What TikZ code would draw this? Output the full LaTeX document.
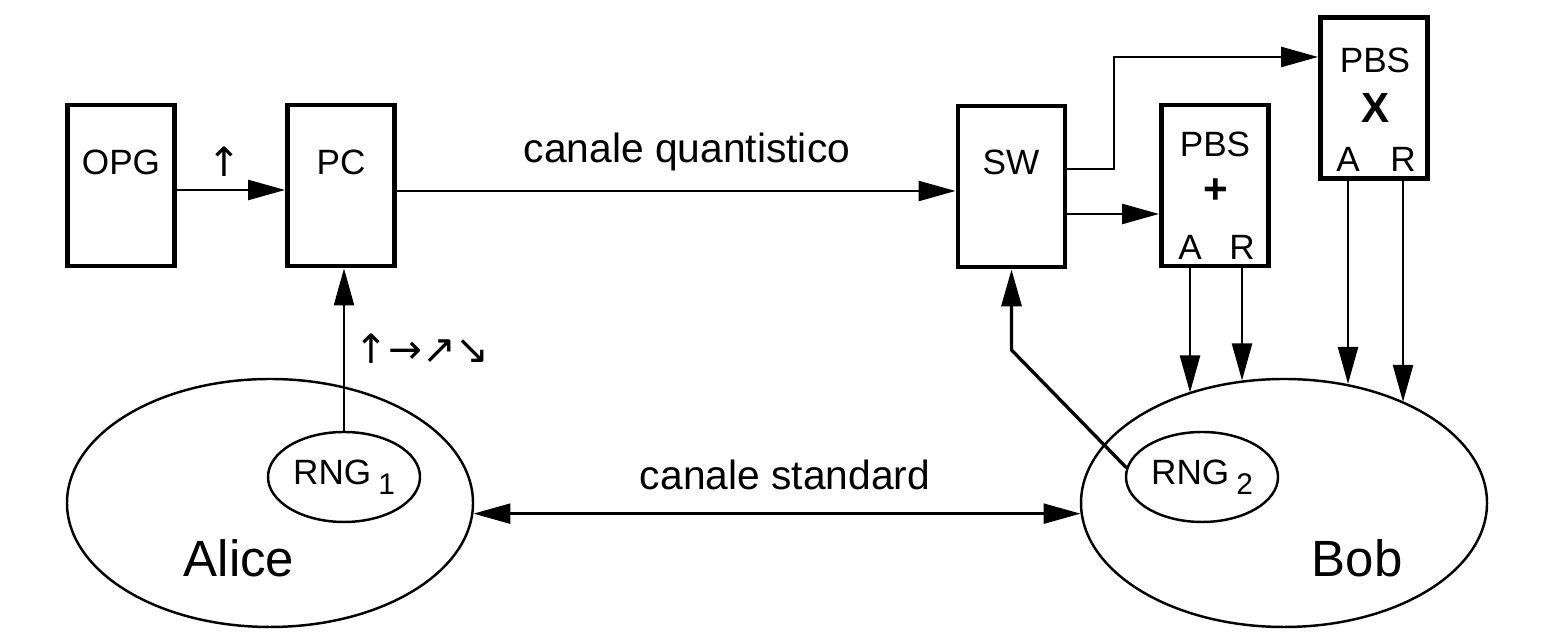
\documentclass[tikz,border=0pt]{standalone}
\usepackage{fontspec}
\setmainfont{Liberation Sans}
\newfontfamily\arrowfont{DejaVu Sans}
\usetikzlibrary{arrows.meta,shapes.geometric}

\begin{document}
\begin{tikzpicture}[
  >={Triangle[length=3.7mm,width=2mm]},
  box/.style={draw,line width=1.4pt,minimum width=1.07cm,minimum height=1.61cm,inner sep=0pt},
  party/.style={draw,ellipse,line width=.7pt,minimum width=4.06cm,minimum height=2.48cm,inner sep=0pt},
  rng/.style={draw,ellipse,line width=.7pt,minimum width=1.52cm,minimum height=.9cm,inner sep=0pt,font=\fontsize{10}{12}\selectfont},
  lab/.style={anchor=base,inner sep=0pt,font=\fontsize{10}{12}\selectfont},
  chan/.style={anchor=base,inner sep=0pt,font=\fontsize{11.6}{14}\selectfont},
  sign/.style={inner sep=0pt,font=\fontsize{12}{14}\selectfont\bfseries},
  big/.style={anchor=base,inner sep=0pt,font=\fontsize{14.5}{17}\selectfont},
  arw/.style={inner sep=0pt,font=\arrowfont\fontsize{11.5}{14}\selectfont},
  line width=.7pt]
  \useasboundingbox (0,0) rectangle (15.48,6.42);
  \node[box] (opg) at (1.21,4.565) {};
  \node[box] (pc) at (3.41,4.565) {};
  \node[box] (sw) at (10.115,4.555) {};
  \node[box] (pbsp) at (12.15,4.565) {};
  \node[box] (pbsx) at (13.74,5.44) {};
  \node[lab] (opgt) at (1.21,4.67) {OPG};
  \node[lab] (pct) at (3.41,4.67) {PC};
  \node[lab] (swt) at (10.11,4.67) {SW};
  \node[lab] (pbspt) at (12.15,4.85) {PBS};
  \node[sign] (pbsps) at (12.16,4.51) {+};
  \node[lab] (pbspa) at (11.90,3.82) {A};
  \node[lab] (pbspr) at (12.42,3.82) {R};
  \node[lab] (pbsxt) at (13.75,5.69) {PBS};
  \node[sign] (pbsxs) at (13.76,5.34) {X};
  \node[lab] (pbsxa) at (13.48,4.70) {A};
  \node[lab] (pbsxr) at (14.03,4.70) {R};
  \node[party] (alice) at (2.70,1.39) {};
  \node[party] (bob) at (12.84,1.39) {};
  \node[rng] (rng1) at (3.44,1.65) {RNG\hspace{2pt}\raisebox{-2.8pt}{\fontsize{8.5}{10}\selectfont 1}};
  \node[rng] (rng2) at (12.02,1.65) {RNG\hspace{2pt}\raisebox{-2.8pt}{\fontsize{8.5}{10}\selectfont 2}};
  \node[big] (alicet) at (2.39,0.65) {Alice};
  \node[big] (bobt) at (13.57,0.65) {Bob};
  \node[chan] (qu) at (6.87,4.79) {canale quantistico};
  \node[chan] (std) at (7.85,1.52) {canale standard};
  \node[arw] (pol) at (2.24,4.805) {↑};
  \node[arw] (pols) at (4.22,2.93) {↑→↗↘};
  \draw[->] ([yshift=-.45mm]opg.east) -- ([yshift=-.45mm]pc.west);
  \coordinate (qa) at ([yshift=-.55mm]pc.east);
  \draw[->] (qa) -- (qa -| sw.west);
  \draw[->] (rng1.north) -- (rng1.north |- pc.south);
  \coordinate (swlo) at ([yshift=-2.75mm]sw.east);
  \draw[->] (swlo) -- (swlo -| pbsp.west);
  \coordinate (swhi) at (11.14,5.85);
  \draw[->] ([yshift=1.75mm]sw.east) -| (swhi) -- (swhi -| pbsx.west);
  \coordinate (bend) at (10.115,2.92);
  \draw[->,line width=.95pt] (rng2.173) -- (bend) -- (sw.south);
  \draw[->] (pbspa |- pbsp.south) -- (pbspa |- bob.131);
  \draw[->] (pbspr |- pbsp.south) -- (pbspr |- bob.109);
  \draw[->] (pbsxa |- pbsx.south) -- (pbsxa |- bob.62);
  \draw[->] (pbsxr |- pbsx.south) -- (pbsxr |- bob.40);
  \draw[<->] (alice.-3.4) -- (bob.183.4);
\end{tikzpicture}
\end{document}
